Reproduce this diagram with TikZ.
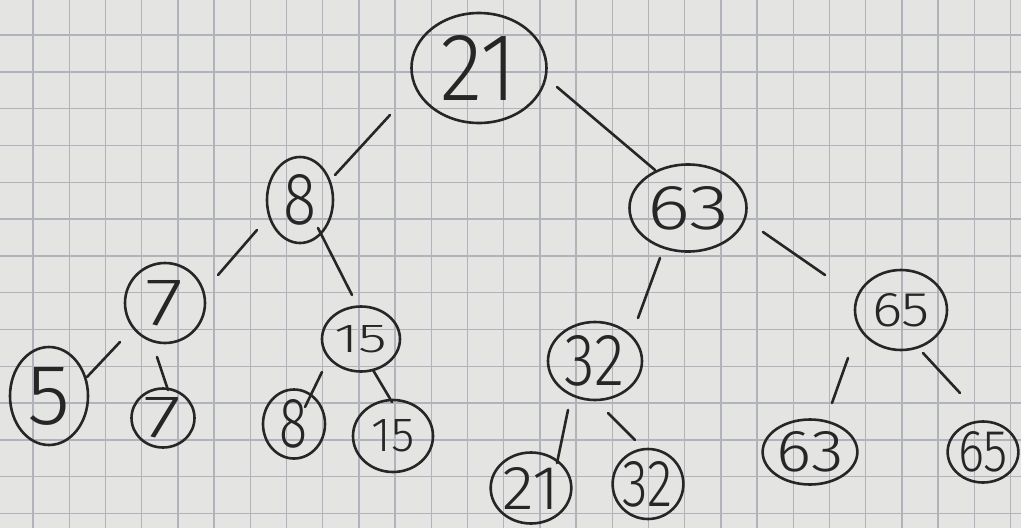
\documentclass[tikz,border=0pt]{standalone}
\usepackage{fontspec}
\usepackage{graphicx}
\newfontfamily\hwf{Fira Sans}[UprightFont=* Light]
\usetikzlibrary{shapes.geometric,calc}
\definecolor{paper}{HTML}{E4E4E2}
\definecolor{gridc}{HTML}{B0B3BA}
\definecolor{ink}{HTML}{262626}
\newcommand\hwd[3]{\resizebox{#1pt}{#2pt}{\hwf #3}}
\tikzset{
  gridline/.style={gridc, line width=1.4pt},
  tnode/.style={ellipse, draw=ink, line width=2.6pt, inner sep=0pt, outer sep=0pt, text=ink},
  edge/.style={ink, line width=2.6pt, line cap=round}
}
\begin{document}
\begin{tikzpicture}[x=1pt,y=-1pt]
\fill[paper] (0,0) rectangle (1021,528);
\useasboundingbox (0,0) rectangle (1021,528);
\foreach \i in {0,...,27} \draw[gridline] ({33+36.2*\i},0) -- ({33+36.2*\i},528);
\foreach \j in {-1,...,13} \draw[gridline] (0,{35+36.8*\j}) -- (1021,{35+36.8*\j});
% nodes
\node[tnode, minimum width=135pt, minimum height=110pt] (n21) at (479,68) {\hwd{76}{65}{21}};
\node[tnode, minimum width=66pt, minimum height=86pt] (n8) at (300,200) {\hwd{33}{50}{8}};
\node[tnode, minimum width=117pt, minimum height=87pt] (n63) at (688,208) {\hwd{82}{43}{63}};
\node[tnode, minimum width=80pt, minimum height=80pt] (n7a) at (165,303) {\hwd{38}{45}{7}};
\node[tnode, minimum width=78pt, minimum height=65pt] (n15a) at (361,339) {\hwd{53}{27}{15}};
\node[tnode, minimum width=94pt, minimum height=78pt] (n32a) at (595,361) {\hwd{60}{50}{32}};
\node[tnode, minimum width=92pt, minimum height=80pt] (n65a) at (901,310) {\hwd{58}{33}{65}};
\node[tnode, minimum width=78pt, minimum height=98pt] (n5) at (49,396) {\hwd{43}{57}{5}};
\node[tnode, minimum width=63pt, minimum height=59pt] (n7b) at (163,418) {\hwd{38}{40}{7}};
\node[tnode, minimum width=62pt, minimum height=62pt] (n8b) at (294,424) {\hwd{28}{48}{8}};
\node[tnode, minimum width=80pt, minimum height=72pt] (n15b) at (393,436) {\hwd{43}{32}{15}};
\node[tnode, minimum width=72pt, minimum height=71pt] (n21b) at (531,488) {\hwd{57}{42}{21}};
\node[tnode, minimum width=66pt, minimum height=70pt] (n32b) at (648,484) {\hwd{50}{45}{32}};
\node[tnode, minimum width=80pt, minimum height=65pt] (n63b) at (810,452) {\hwd{67}{40}{63}};
\node[tnode, minimum width=70pt, minimum height=61pt] (n65b) at (983,452) {\hwd{50}{40}{65}};
% edges
\draw[edge] ($(n21)+(-89,47)$) -- ($(n8)+(35,-25)$);
\draw[edge] ($(n21)+(78,19)$) -- ($(n63)+(-33,-38)$);
\draw[edge] ($(n8)+(-43,30)$) -- ($(n7a)+(53,-28)$);
\draw[edge] ($(n8)+(18,28)$) -- ($(n15a)+(-9,-44)$);
\draw[edge] ($(n7a)+(-45,39)$) -- ($(n5)+(38,-19)$);
\draw[edge] ($(n7a)+(-8,54)$) -- ($(n7b)+(5,-28)$);
\draw[edge] ($(n15a)+(-39,33)$) -- ($(n8b)+(11,-17)$);
\draw[edge] ($(n15a)+(12,31)$) -- ($(n15b)+(-1,-34)$);
\draw[edge] ($(n63)+(-28,50)$) -- ($(n32a)+(43,-43)$);
\draw[edge] ($(n63)+(75,24)$) -- ($(n65a)+(-76,-35)$);
\draw[edge] ($(n32a)+(-27,49)$) -- ($(n21b)+(26,-25)$);
\draw[edge] ($(n32a)+(13,52)$) -- ($(n32b)+(-13,-44)$);
\draw[edge] ($(n65a)+(-53,48)$) -- ($(n63b)+(22,-49)$);
\draw[edge] ($(n65a)+(22,43)$) -- ($(n65b)+(-23,-59)$);
\end{tikzpicture}
\end{document}
